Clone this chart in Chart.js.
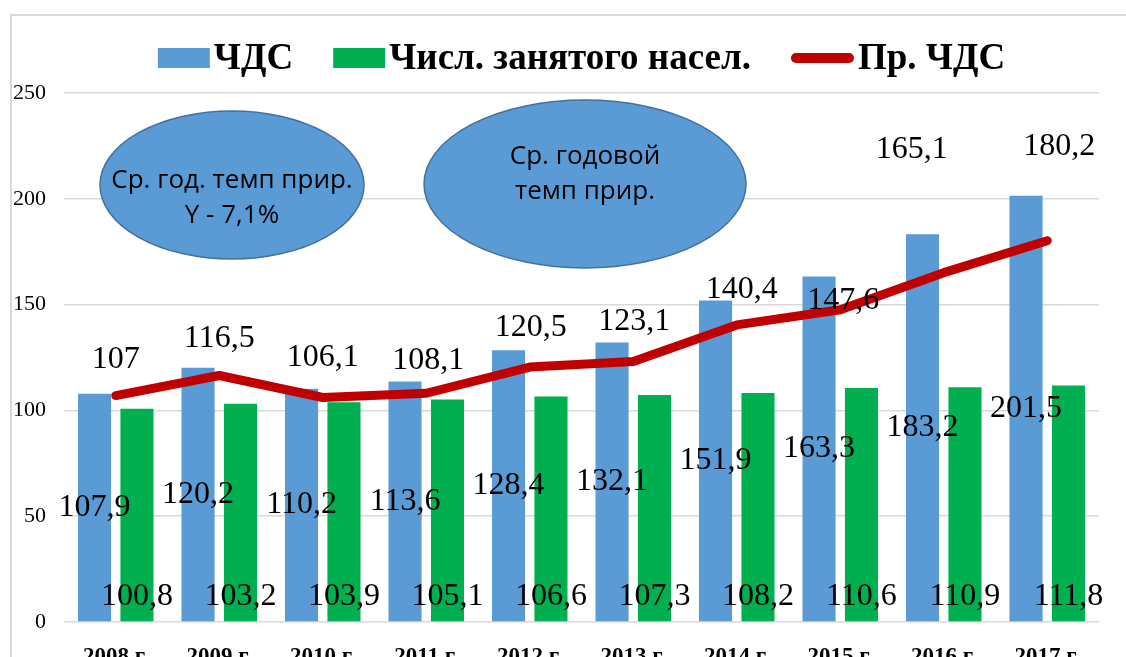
<!DOCTYPE html>
<html>
<head>
<meta charset="utf-8">
<script src="https://cdn.jsdelivr.net/npm/chart.js@4"></script>
<style>
    html, body { margin: 0; padding: 0; background: #ffffff; }
    #wrap { position: relative; width: 1126px; height: 657px; }
</style>
</head>
<body>
<div id="wrap"><canvas id="chartCanvas"></canvas></div>
<script>
const years = ['2008 г.', '2009 г.', '2010 г.', '2011 г.', '2012 г.', '2013 г.', '2014 г.', '2015 г.', '2016 г.', '2017 г.'];
const chdsValues = [107.9, 120.2, 110.2, 113.6, 128.4, 132.1, 151.9, 163.3, 183.2, 201.5];
const employedValues = [100.8, 103.2, 103.9, 105.1, 106.6, 107.3, 108.2, 110.6, 110.9, 111.8];
const prChdsValues = [107, 116.5, 106.1, 108.1, 120.5, 123.1, 140.4, 147.6, 165.1, 180.2];

// where the line labels sit relative to their point (they were moved by hand in the original)
const lineLabelShift = [[0, -36], [0, -37], [0, -40], [2, -33], [1, -39], [1, -40], [5, -35], [3, -9], [-32, -123], [12, -94]];

const notes = [
    { cx: 232, cy: 185, rx: 132, ry: 74, lines: ['Ср. год. темп прир.', 'Y - 7,1%'], firstY: 181 },
    { cx: 585, cy: 184, rx: 161, ry: 84, lines: ['Ср. годовой', 'темп прир.'], firstY: 157 }
];

const serif = "'Liberation Serif', 'Times New Roman', serif";

function fmt(v) {
    return String(v).replace('.', ',');
}

const frameAndNotes = {
    id: 'frameAndNotes',
    beforeDraw(chart) {
        const ctx = chart.ctx;
        ctx.save();
        ctx.strokeStyle = '#d9d9d9';
        ctx.lineWidth = 2;
        ctx.beginPath();
        ctx.moveTo(11, chart.height);
        ctx.lineTo(11, 15);
        ctx.lineTo(chart.width, 15);
        ctx.stroke();
        ctx.restore();
    },
    afterDatasetsDraw(chart) {
        const ctx = chart.ctx;
        ctx.save();
        notes.forEach(n => {
            ctx.beginPath();
            ctx.ellipse(n.cx, n.cy, n.rx, n.ry, 0, 0, Math.PI * 2);
            ctx.fillStyle = '#5b9bd5';
            ctx.fill();
            ctx.lineWidth = 1.5;
            ctx.strokeStyle = '#41719c';
            ctx.stroke();
            ctx.fillStyle = '#000000';
            ctx.font = "26px 'Open Sans', sans-serif";
            ctx.textAlign = 'center';
            ctx.textBaseline = 'middle';
            n.lines.forEach((t, i) => ctx.fillText(t, n.cx, n.firstY + i * 35));
        });
        ctx.restore();
    }
};

const valueLabels = {
    id: 'valueLabels',
    afterDatasetsDraw(chart) {
        const ctx = chart.ctx;
        ctx.save();
        ctx.font = '32px ' + serif;
        ctx.fillStyle = '#000000';
        ctx.textAlign = 'center';
        ctx.textBaseline = 'middle';
        chart.data.datasets.forEach((ds, di) => {
            const meta = chart.getDatasetMeta(di);
            meta.data.forEach((el, i) => {
                const text = fmt(ds.data[i]);
                if (di === 0) {
                    ctx.fillText(text, el.x, (el.y + el.base) / 2);
                } else if (di === 1) {
                    ctx.fillText(text, el.x, el.base - 25);
                } else {
                    const s = lineLabelShift[i];
                    ctx.fillText(text, el.x + s[0], el.y + s[1]);
                }
            });
        });
        ctx.restore();
    }
};

const topLegend = {
    id: 'topLegend',
    afterDraw(chart) {
        const ctx = chart.ctx;
        const area = chart.chartArea;
        ctx.save();
        ctx.font = 'bold 37px ' + serif;
        const items = chart.data.datasets.map(ds => {
            const isLine = ds.type === 'line';
            const mark = isLine ? 63 : 52;
            const tw = ctx.measureText(ds.label).width;
            return { ds, isLine, mark, tw, w: mark + 4 + tw };
        });
        const gap = 40;
        const total = items.reduce((a, it) => a + it.w, 0) + gap * (items.length - 1);
        let x = (area.left + area.right) / 2 - total / 2;
        const cy = 58;
        items.forEach(it => {
            if (it.isLine) {
                ctx.strokeStyle = it.ds.borderColor;
                ctx.lineWidth = 10;
                ctx.lineCap = 'round';
                ctx.beginPath();
                ctx.moveTo(x + 5, cy);
                ctx.lineTo(x + it.mark - 5, cy);
                ctx.stroke();
            } else {
                ctx.fillStyle = it.ds.backgroundColor;
                ctx.fillRect(x, cy - 10, it.mark, 20);
            }
            ctx.fillStyle = '#000000';
            ctx.textAlign = 'left';
            ctx.textBaseline = 'alphabetic';
            ctx.fillText(it.ds.label, x + it.mark + 4, 69);
            x += it.w + gap;
        });
        ctx.restore();
    }
};

const ctx = document.getElementById('chartCanvas').getContext('2d');
new Chart(ctx, {
    data: {
        labels: years,
        datasets: [
            {
                type: 'bar',
                label: 'ЧДС',
                data: chdsValues,
                backgroundColor: '#5b9bd5',
                borderWidth: 0,
                order: 2
            },
            {
                type: 'bar',
                label: 'Числ. занятого насел.',
                data: employedValues,
                backgroundColor: '#00b050',
                borderWidth: 0,
                order: 2
            },
            {
                type: 'line',
                label: 'Пр. ЧДС',
                data: prChdsValues,
                borderColor: '#c00000',
                backgroundColor: '#c00000',
                borderWidth: 9,
                borderCapStyle: 'round',
                borderJoinStyle: 'round',
                pointRadius: 0,
                tension: 0,
                order: 1
            }
        ]
    },
    options: {
        responsive: true,
        maintainAspectRatio: false,
        animation: false,
        datasets: {
            bar: {
                categoryPercentage: 0.82,
                barPercentage: 0.78
            }
        },
        layout: {
            padding: { top: 93, right: 27, bottom: 0, left: 0 }
        },
        plugins: {
            legend: { display: false },
            tooltip: { enabled: false }
        },
        scales: {
            x: {
                grid: { display: false },
                border: { display: false },
                ticks: {
                    color: '#000000',
                    font: { family: serif, size: 23, weight: 'bold' },
                    padding: 13,
                    maxRotation: 0,
                    autoSkip: false
                },
                afterFit(scale) { scale.height = 35; }
            },
            y: {
                min: 0,
                max: 250,
                grid: { color: '#d9d9d9', lineWidth: 1.5, drawTicks: false },
                border: { display: false },
                ticks: {
                    stepSize: 50,
                    color: '#000000',
                    font: { family: serif, size: 22 },
                    padding: 18
                },
                afterFit(scale) { scale.width = 64; }
            }
        }
    },
    plugins: [frameAndNotes, valueLabels, topLegend]
});
</script>
</body>
</html>
